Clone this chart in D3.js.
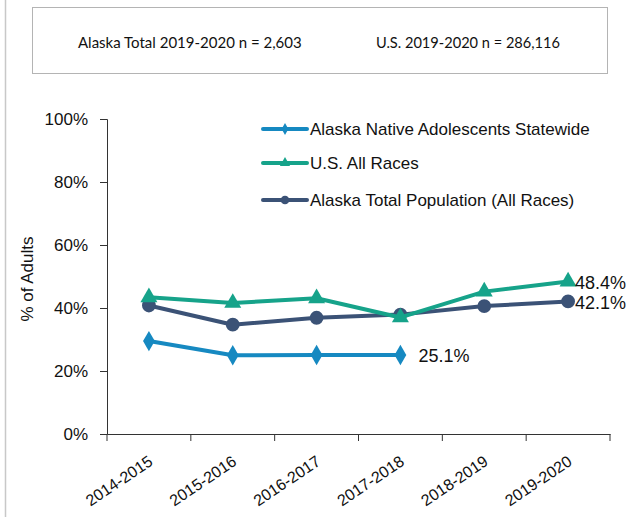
<!DOCTYPE html>
<html lang="en">
<head>
  <meta charset="UTF-8">
  <title>linechart</title>
  <script src="https://cdn.jsdelivr.net/npm/d3@7"></script>
  <style>
    body { margin: 0; background: #fff; }
    svg { display: block; }
    text { font-family: 'Liberation Sans', 'DejaVu Sans', sans-serif; fill: #111; }
  </style>
</head>
<body>
  <svg width="632" height="517" id="mainsvg"></svg>
  <script>
    const years = ['2014-2015', '2015-2016', '2016-2017', '2017-2018', '2018-2019', '2019-2020'];
    const nativeVals = [29.5, 25.0, 25.1, 25.1, null, null];
    const usVals = [43.4, 41.6, 43.1, 37.0, 45.2, 48.4];
    const akVals = [40.8, 34.7, 36.9, 37.9, 40.6, 42.1];
    const yTicks = [0, 20, 40, 60, 80, 100];
    const seriesNames = ['Alaska Native Adolescents Statewide', 'U.S. All Races', 'Alaska Total Population (All Races)'];
    const headerText = ['Alaska Total 2019-2020 n = 2,603', 'U.S. 2019-2020 n = 286,116'];

    const svg = d3.select('#mainsvg');
    const margin = {top: 119, left: 107};
    const height = +svg.attr('height');
    const innerWidth = 610 - margin.left;
    const innerHeight = 434 - margin.top;

    // page edge line and the header box
    svg.append('line').attr('x1', 5.5).attr('x2', 5.5).attr('y1', 0).attr('y2', height)
      .attr('stroke', '#c8c8c8').attr('stroke-width', 1.5);
    svg.append('rect').attr('x', 32.5).attr('y', 7.5).attr('width', 575).attr('height', 66)
      .attr('fill', 'none').attr('stroke', '#b4b4b4');
    svg.append('text').text(headerText[0]).attr('x', 78).attr('y', 48)
      .style('font-family', 'Lato').attr('font-size', 15);
    svg.append('text').text(headerText[1]).attr('x', 560).attr('y', 48)
      .attr('text-anchor', 'end').style('font-family', 'Lato').attr('font-size', 14.6);

    const xScale = d3.scaleBand().domain(years).range([0, innerWidth]);
    const yScale = d3.scaleLinear().domain([0, 100]).range([innerHeight, 0]);

    const g = svg.append('g').attr('transform', `translate(${margin.left},${margin.top})`);

    const yAxis = d3.axisLeft(yScale).tickValues(yTicks).tickFormat(d => d + '%').tickSize(7).tickPadding(12);
    const yg = g.append('g').call(yAxis);
    yg.selectAll('text').attr('font-size', 17).attr('font-family', null);

    const xAxis = d3.axisBottom(xScale).tickSize(0).tickPadding(0).tickFormat('');
    const xg = g.append('g').attr('transform', `translate(0,${innerHeight})`).call(xAxis);
    // boundary ticks between categories
    xg.selectAll('.bt').data(d3.range(years.length + 1)).join('line')
      .attr('x1', i => i * xScale.step()).attr('x2', i => i * xScale.step())
      .attr('y1', 0).attr('y2', 7).attr('stroke', '#333');
    xg.selectAll('.xl').data(years).join('text')
      .text(d => d)
      .attr('font-size', 16)
      .attr('text-anchor', 'end')
      .attr('transform', d => `translate(${xScale(d) + xScale.bandwidth() / 2 + 5},${30}) rotate(-34)`);
    g.selectAll('.domain').attr('stroke', '#333');
    g.selectAll('.tick line').attr('stroke', '#333');

    svg.append('text').text('% of Adults')
      .attr('font-size', 17)
      .attr('text-anchor', 'middle')
      .attr('transform', 'translate(33,279) rotate(-90)');

    const cx = d => xScale(d) + xScale.bandwidth() / 2;
    const series = [
      {vals: nativeVals, color: '#1689c1', shape: d3.symbolDiamond, size: 120},
      {vals: akVals, color: '#3b5276', shape: d3.symbolCircle, size: 150},
      {vals: usVals, color: '#16a38a', shape: d3.symbolTriangle, size: 125}
    ];

    const line = d3.line().defined(d => d[1] != null).x(d => cx(d[0])).y(d => yScale(d[1]));

    series.forEach(s => {
      const pts = years.map((y, i) => [y, s.vals[i]]);
      g.append('path').datum(pts).attr('d', line)
        .attr('fill', 'none').attr('stroke', s.color).attr('stroke-width', 4).attr('stroke-linejoin', 'round');
      g.selectAll(null).data(pts.filter(p => p[1] != null)).join('path')
        .attr('d', d3.symbol().type(s.shape).size(s.size))
        .attr('transform', p => `translate(${cx(p[0])},${yScale(p[1])})`)
        .attr('fill', s.color);
    });

    // end labels
    const lastX = cx(years[5]);
    g.append('text').text(usVals[5].toFixed(1) + '%').attr('x', lastX + 7).attr('y', yScale(usVals[5]) + 7).attr('font-size', 18);
    g.append('text').text(akVals[5].toFixed(1) + '%').attr('x', lastX + 7).attr('y', yScale(akVals[5]) + 8).attr('font-size', 18);
    g.append('text').text(nativeVals[3].toFixed(1) + '%').attr('x', cx(years[3]) + 18).attr('y', yScale(nativeVals[3]) + 7).attr('font-size', 18);

    // legend
    const legendRows = [
      {name: seriesNames[0], color: '#1689c1', shape: d3.symbolDiamond, size: 40},
      {name: seriesNames[1], color: '#16a38a', shape: d3.symbolTriangle, size: 45},
      {name: seriesNames[2], color: '#3b5276', shape: d3.symbolCircle, size: 60}
    ];
    const lg = svg.append('g').attr('transform', 'translate(263,0)');
    legendRows.forEach((r, i) => {
      const y = [129, 163, 200][i];
      lg.append('line').attr('x1', 0).attr('x2', 44).attr('y1', y).attr('y2', y)
        .attr('stroke', r.color).attr('stroke-width', 4).attr('stroke-linecap', 'round');
      lg.append('path').attr('d', d3.symbol().type(r.shape).size(r.size))
        .attr('transform', `translate(22,${y})`).attr('fill', r.color);
      lg.append('text').text(r.name).attr('x', 47).attr('y', y + 6).attr('font-size', 17);
    });
  </script>
</body>
</html>
